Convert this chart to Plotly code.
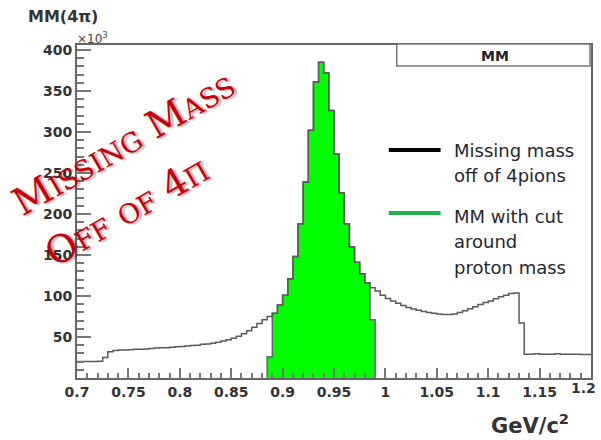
import numpy as np
import plotly.graph_objects as go

# ---------------- data (counts in units of 10^3) ----------------
bin_start = 0.7
bin_width = 0.005
all_counts = [
    20, 20, 20, 20, 20.5, 25, 32, 33.5,
    34, 34, 34.5, 35, 35, 35.5, 36, 36.5, 37, 37,
    37.5, 38, 38.5, 39, 39.5, 40, 41, 41.5, 42.5, 43.5,
    45, 46.5, 48.5, 51, 54, 57.5, 62, 66.5, 71,
    75, 79, 89, 101, 121, 148, 188, 239, 302, 361, 385,
    372, 326, 273, 226, 188, 160, 141, 127, 116, 110,
    106, 101, 97, 94, 91, 88.5, 86, 84, 82.5, 81,
    80, 79, 78, 77.5, 77.5, 78, 80, 82, 84.5, 87,
    89.5, 92, 94, 96.5, 99, 101, 103, 103.5,
    67, 29, 29, 29.5, 29, 29, 29, 29.5, 29, 29, 29, 29, 28.5, 28.5,
]
cut_start = 0.885
cut_counts = [26, 79, 89, 101, 121, 148, 188, 239, 302, 361, 385,
              372, 326, 273, 226, 188, 160, 141, 127, 116, 71]

x_tick_vals = [0.7, 0.75, 0.8, 0.85, 0.9, 0.95, 1.0, 1.05, 1.1, 1.15, 1.2]
x_tick_text = ["0.7", "0.75", "0.8", "0.85", "0.9", "0.95", "1", "1.05", "1.1", "1.15", "1.2"]
y_tick_vals = [50, 100, 150, 200, 250, 300, 350, 400]

legend_items = [
    ("#000000", ["Missing mass", "off of 4pions"]),
    ("#22b14c", ["MM with cut", "around", "proton mass"]),
]

# ---------------- layout geometry ----------------
W, H = 601, 440
L, R, T, B = 77, 8, 45, 62
PW, PH = W - L - R, H - T - B


def px(x, y):
    return (x - L) / PW, (H - B - y) / PH


def step_xy(start, width, counts, close=False):
    edges = start + width * np.arange(len(counts) + 1)
    ys = list(counts) + [counts[-1]]
    xs = list(edges)
    if close:
        xs = [edges[0]] + xs + [edges[-1]]
        ys = [0] + ys + [0]
    return xs, ys


fig = go.Figure()

gx, gy = step_xy(cut_start, bin_width, cut_counts, close=True)
fig.add_trace(go.Scatter(x=gx, y=gy, mode="lines", line=dict(shape="hv", color="#666666", width=1.5),
                         fill="tozeroy", fillcolor="#00ff00", showlegend=False, hoverinfo="skip"))

bx, by = step_xy(bin_start, bin_width, all_counts)
fig.add_trace(go.Scatter(x=bx, y=by, mode="lines", line=dict(shape="hv", color="#5a5a5a", width=1.5),
                         showlegend=False, hoverinfo="skip"))

tickfont = dict(family="DejaVu Sans", size=14, color="#333333", weight="bold")

# the last label sits on the figure edge; it is drawn as an annotation, pulled inside the page
shown_text = x_tick_text[:-1] + [""]

fig.update_xaxes(range=[0.7, 1.2], showline=True, linecolor="#666666", linewidth=2, mirror=True,
                 showgrid=False, zeroline=False, ticks="inside", ticklen=10, tickwidth=2, tickcolor="#777777",
                 tickmode="array", tickvals=x_tick_vals, ticktext=shown_text, tickfont=tickfont,
                 minor=dict(tickmode="linear", tick0=0.7, dtick=0.01, ticks="inside", ticklen=5,
                            tickwidth=2, tickcolor="#777777"))
fig.update_yaxes(range=[0, 406], showline=True, linecolor="#666666", linewidth=2, mirror=True,
                 showgrid=False, zeroline=False, ticks="inside", ticklen=14, tickwidth=2, tickcolor="#777777",
                 tickmode="array", tickvals=y_tick_vals, tickfont=tickfont,
                 minor=dict(tickmode="linear", tick0=0, dtick=10, ticks="inside", ticklen=7,
                            tickwidth=2, tickcolor="#777777"))

shapes = []
annotations = []

ax, ly_lab = px(600, 388)
annotations.append(dict(text=x_tick_text[-1], x=ax, y=ly_lab, xanchor="right", font=tickfont))

# stats box "MM"
x0, y0 = px(398, 44)
x1, y1 = px(592, 66)
shapes.append(dict(type="rect", xref="paper", yref="paper", x0=x0, y0=y0, x1=x1, y1=y1,
                   line=dict(color="#777777", width=1.5), fillcolor="white"))
ax, ay = px(497, 56)
annotations.append(dict(text="MM", x=ax, y=ay, font=dict(family="DejaVu Sans", size=14, color="#222222", weight="bold")))

# title and axis texts
ax, ay = px(26, 17)
annotations.append(dict(text="MM(4π)", x=ax, y=ay, xanchor="left",
                        font=dict(family="DejaVu Sans", size=16, color="#333333", weight="bold")))
ax, ay = px(75, 38)
annotations.append(dict(text="×10<sup>3</sup>", x=ax, y=ay, xanchor="left",
                        font=dict(family="DejaVu Sans", size=12, color="#444444")))
ax, ay = px(573, 424)
annotations.append(dict(text="GeV/c<sup>2</sup>", x=ax, y=ay, xanchor="right",
                        font=dict(family="DejaVu Sans", size=21, color="#333333", weight="bold")))

# custom legend
line_y = [150, 213]
text_y0 = [150, 216]
for (color, lines), ly, ty in zip(legend_items, line_y, text_y0):
    lx0, lyy = px(390, ly)
    lx1, _ = px(442, ly)
    shapes.append(dict(type="line", xref="paper", yref="paper", x0=lx0, x1=lx1, y0=lyy, y1=lyy,
                       line=dict(color=color, width=4)))
    for i, t in enumerate(lines):
        ax, ay = px(453, ty + 25.5 * i)
        annotations.append(dict(text=t, x=ax, y=ay, xanchor="left",
                                font=dict(family="DejaVu Sans", size=18, color="#262630")))

# red stamp text
red_font = dict(family="DejaVu Serif", size=38, color="#c8000a", variant="small-caps",
                shadow="2px 2px 2px rgba(0,0,0,0.35)")
ax, ay = px(124, 143)
annotations.append(dict(text="Missing Mass", x=ax, y=ay, textangle=-30, font=red_font))
ax, ay = px(127, 211)
annotations.append(dict(text="Off of 4π", x=ax, y=ay, textangle=-30, font=red_font))

for a in annotations:
    a.update(xref="paper", yref="paper", showarrow=False)
    a.setdefault("xanchor", "center")
    a.setdefault("yanchor", "middle")

fig.update_layout(width=W, height=H, margin=dict(l=L, r=R, t=T, b=B, pad=0),
                  paper_bgcolor="white", plot_bgcolor="white",
                  shapes=shapes, annotations=annotations, showlegend=False)

fig.write_html("out.html")
